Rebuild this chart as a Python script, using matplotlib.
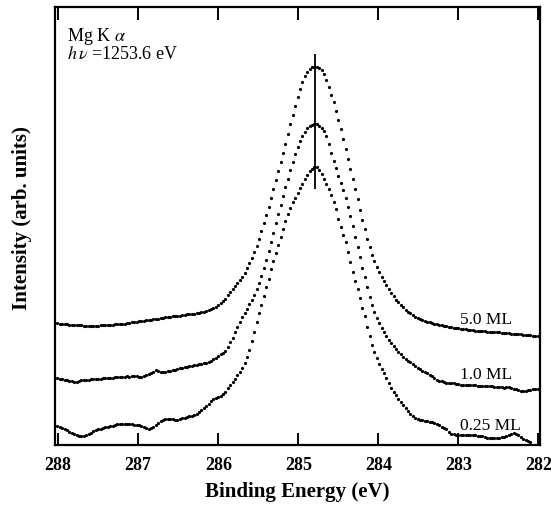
import numpy as np
import matplotlib
matplotlib.use("Agg")
import matplotlib.pyplot as plt

plt.rcParams['font.family'] = ['Liberation Serif', 'DejaVu Serif']
plt.rcParams['mathtext.fontset'] = 'stix'

# ---- data (binding energy grid, 0.03 eV step starting at 288.01 eV) ----
e_start = 288.01
e_step = 0.03

i_5ml = [
    121.7, 121.4, 121.0, 121.0, 120.6, 120.4, 120.4, 120.0, 119.9, 119.6,
    119.6, 119.2, 119.4, 119.2, 119.4, 119.2, 119.5, 119.5, 119.8, 119.6,
    119.9, 120.0, 120.3, 120.2, 120.6, 120.8, 120.8, 121.2, 121.4, 121.9,
    122.0, 122.6, 122.8, 123.4, 123.7, 124.1, 124.3, 124.8, 125.0, 125.5,
    125.6, 126.2, 126.4, 126.9, 126.9, 127.6, 127.7, 128.1, 128.6, 128.7,
    129.3, 129.4, 130.0, 130.1, 130.6, 130.8, 131.3, 131.4, 131.9, 132.1,
    132.6, 133.2, 134.1, 135.0, 136.0, 137.2, 138.5, 140.0, 141.8, 144.0,
    146.2, 149.6, 153.3, 156.5, 159.5, 162.0, 164.9, 168.5, 172.3, 176.7,
    181.6, 187.2, 192.8, 198.7, 206.3, 213.9, 222.3, 230.2, 237.9, 246.9,
    255.9, 264.9, 274.0, 283.1, 292.3, 301.4, 311.0, 320.6, 329.7, 338.9,
    347.6, 356.2, 363.2, 369.1, 372.9, 376.0, 377.6, 378.3, 378.4, 377.4,
    375.3, 371.0, 364.8, 358.0, 350.4, 342.6, 334.0, 325.4, 315.8, 306.2,
    296.2, 286.1, 275.8, 265.9, 255.6, 246.0, 235.0, 225.4, 215.8, 206.5,
    198.2, 190.5, 184.3, 178.3, 172.6, 167.8, 163.6, 159.6, 155.7, 152.0,
    148.7, 145.5, 142.6, 139.8, 137.6, 135.5, 133.4, 131.6, 129.9, 128.2,
    127.2, 126.2, 125.2, 124.4, 123.5, 122.8, 122.1, 121.4, 120.8, 120.2,
    119.9, 119.3, 118.9, 118.3, 118.0, 117.4, 117.0, 116.7, 116.2, 115.8,
    115.6, 115.2, 115.0, 114.6, 114.5, 114.0, 113.9, 113.7, 113.8, 113.5,
    113.4, 113.2, 113.1, 112.8, 112.8, 112.4, 112.3, 111.9, 111.8, 111.5,
    111.4, 111.1, 111.0, 110.8, 110.4, 110.2, 109.8, 109.6, 109.2, 109.0,
    108.6,
]

i_1ml = [
    66.7, 66.2, 65.9, 65.4, 64.9, 64.2, 63.9, 63.4, 63.5, 64.2,
    64.7, 65.1, 65.5, 65.4, 65.8, 65.9, 66.0, 66.4, 66.2, 66.7,
    66.7, 67.0, 67.1, 67.5, 67.6, 68.0, 68.0, 68.4, 68.3, 68.6,
    68.5, 68.7, 68.6, 68.7, 68.2, 68.3, 68.9, 69.9, 71.1, 72.4,
    73.5, 74.8, 74.3, 73.4, 72.8, 73.2, 73.9, 74.3, 74.8, 75.3,
    75.9, 76.6, 77.2, 77.8, 78.4, 78.9, 79.3, 79.8, 80.2, 80.6,
    81.0, 81.8, 82.5, 83.3, 84.2, 85.7, 87.4, 89.2, 90.8, 92.5,
    94.3, 98.0, 102.8, 107.5, 113.3, 118.2, 123.0, 127.8, 132.3, 136.5,
    140.7, 145.1, 150.5, 156.2, 162.1, 169.0, 177.0, 185.3, 193.8, 202.9,
    212.0, 222.0, 231.3, 240.4, 249.0, 257.7, 266.5, 275.3, 283.0, 290.9,
    297.7, 303.8, 309.1, 313.0, 316.7, 318.9, 320.3, 320.9, 320.6, 319.5,
    317.3, 313.6, 308.6, 301.0, 292.1, 284.2, 276.8, 269.3, 262.2, 254.6,
    246.7, 238.2, 229.2, 219.1, 207.7, 198.2, 187.7, 176.9, 167.7, 158.5,
    148.5, 139.7, 133.0, 126.6, 121.6, 116.8, 112.7, 109.1, 105.5, 102.0,
    98.6, 96.0, 93.2, 90.7, 88.4, 86.3, 84.5, 82.6, 80.8, 79.0,
    77.3, 75.9, 74.4, 72.8, 71.8, 70.3, 68.7, 67.1, 65.5, 64.4,
    63.6, 62.9, 62.5, 62.3, 62.0, 61.7, 61.3, 60.9, 60.5, 60.3,
    60.2, 60.0, 60.0, 59.8, 59.7, 59.5, 59.5, 59.4, 59.3, 59.1,
    58.9, 58.7, 58.4, 58.0, 57.7, 57.6, 57.5, 57.8, 57.9, 57.2,
    56.4, 55.7, 55.0, 54.5, 54.3, 54.4, 54.8, 55.2, 55.6, 55.8,
    56.0,
]

i_025ml = [
    19.0, 18.2, 17.2, 16.0, 14.6, 13.2, 11.8, 10.6, 9.7, 9.0,
    8.9, 9.4, 10.2, 11.2, 12.4, 13.6, 14.8, 16.0, 16.5, 17.0,
    17.6, 18.2, 18.8, 19.5, 20.1, 20.8, 21.1, 21.2, 21.2, 21.1,
    20.9, 20.7, 20.4, 20.2, 19.8, 19.3, 18.4, 17.3, 16.4, 16.7,
    18.1, 20.5, 22.2, 23.7, 24.8, 26.0, 26.0, 26.0, 25.7, 25.5,
    25.3, 25.8, 26.6, 27.4, 28.3, 28.9, 29.3, 29.8, 30.9, 33.0,
    34.8, 36.6, 38.7, 41.3, 43.7, 46.1, 47.3, 48.3, 49.1, 50.9,
    53.2, 56.9, 60.4, 63.5, 66.1, 69.7, 73.3, 77.1, 82.0, 88.1,
    95.4, 104.2, 113.0, 122.8, 131.6, 140.4, 149.2, 158.0, 165.8, 175.6,
    184.3, 192.3, 200.3, 208.3, 216.3, 224.3, 231.5, 237.4, 242.6, 247.4,
    252.2, 257.0, 261.2, 265.6, 270.0, 273.6, 276.4, 278.0, 277.9, 274.8,
    270.8, 266.0, 261.2, 255.6, 249.7, 242.6, 235.7, 226.0, 218.1, 209.8,
    202.6, 193.0, 183.4, 173.4, 163.7, 155.7, 146.8, 137.4, 128.9, 118.2,
    108.6, 99.8, 92.9, 87.1, 81.1, 75.8, 71.6, 67.2, 62.4, 57.2,
    53.5, 50.4, 46.2, 43.1, 40.1, 37.1, 34.1, 31.1, 29.3, 27.0,
    26.0, 25.2, 24.7, 24.4, 23.8, 23.3, 22.7, 22.2, 21.2, 19.8,
    18.3, 16.9, 15.6, 13.5, 11.2, 10.6, 10.4, 10.2, 10.0, 10.0,
    10.0, 10.0, 10.0, 9.9, 9.6, 9.3, 8.9, 8.6, 8.0, 7.4,
    7.0, 6.7, 6.8, 7.0, 7.3, 7.7, 8.5, 9.3, 10.1, 11.3,
    12.0, 10.8, 9.6, 7.9, 6.4, 5.0, 3.8, 3.0,
]

series = [("5.0 ML", i_5ml, 126), ("1.0 ML", i_1ml, 71), ("0.25 ML", i_025ml, 20)]
peak_position = 284.79
peak_line = (256, 391)
x_ticks = [288, 287, 286, 285, 284, 283, 282]

# ---- figure ----
fig = plt.figure(figsize=(5.51, 5.06), dpi=100)
ax = fig.add_axes([55 / 551, 1 - 446 / 506, 485 / 551, 438 / 506])

for name, vals, label_y in series:
    e = np.round(e_start - e_step * np.arange(len(vals)), 3)
    ax.plot(e, vals, linestyle='none', marker='o', markersize=2.3,
            markeredgewidth=0, color='black')
    ax.text(282.98, label_y, name, fontsize=12.5, va='center', ha='left')

ax.vlines(peak_position, peak_line[0], peak_line[1], color='black', linewidth=1.3)

ax.text(0.025, 0.935, r"Mg K $\alpha$", transform=ax.transAxes, fontsize=13,
        va='center', ha='left')
ax.text(0.025, 0.893, r"$h\,\nu$ =1253.6 eV", transform=ax.transAxes, fontsize=13,
        va='center', ha='left')

ax.set_xlim(288.04, 281.98)
ax.set_ylim(0, 438)
ax.set_xticks(x_ticks)
ax.set_xticklabels([str(t) for t in x_ticks], fontweight='bold', fontsize=13)
ax.set_yticks([])
ax.tick_params(axis='x', direction='in', length=9, width=1.4, top=True,
               bottom=True, pad=8)
for s in ax.spines.values():
    s.set_linewidth(1.6)

ax.set_xlabel("Binding Energy (eV)", fontsize=15, fontweight='bold', labelpad=6)
ax.set_ylabel("Intensity (arb. units)", fontsize=15, fontweight='bold')
ax.yaxis.set_label_coords(-0.047, 0.52)

fig.savefig("out.png", dpi=100)
